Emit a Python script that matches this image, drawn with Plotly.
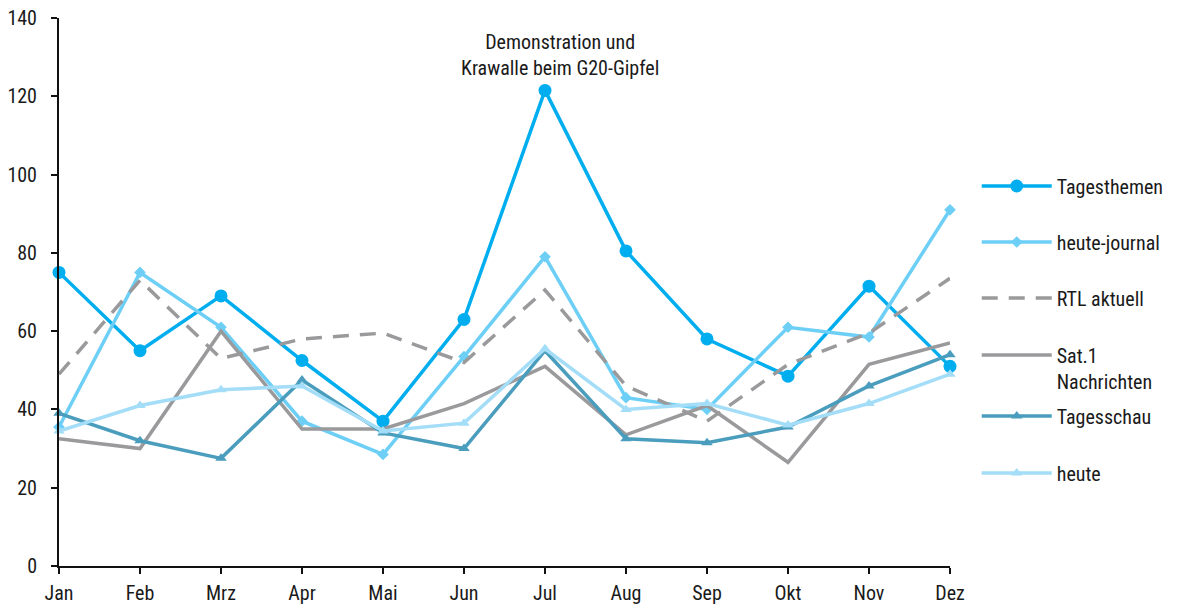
import plotly.graph_objects as go

months = ["Jan", "Feb", "Mrz", "Apr", "Mai", "Jun", "Jul", "Aug", "Sep", "Okt", "Nov", "Dez"]

tagesthemen = [75, 55, 69, 52.5, 37, 63, 121.5, 80.5, 58, 48.5, 71.5, 51]
heute_journal = [35.5, 75, 61, 37, 28.5, 53.5, 79, 43, 40, 61, 58.5, 91]
rtl_aktuell = [49, 73, 53, 58, 59.5, 52, 70.5, 46, 37, 51.5, 59.5, 73.5]
sat1_nachrichten = [32.5, 30, 60, 35, 35, 41.5, 51, 33.5, 41, 26.5, 51.5, 57]
tagesschau = [39, 32, 27.5, 47.5, 34, 30, 55, 32.5, 31.5, 35.5, 46, 54]
heute = [34.5, 41, 45, 46, 34.5, 36.5, 55.5, 40, 41.5, 36, 41.5, 49]

annotation_text = "Demonstration und<br>Krawalle beim G20-Gipfel"

FONT = "Liberation Sans Narrow, Roboto Condensed, Arial Narrow, Liberation Sans, sans-serif"
TXT = "#1a1a1a"

x = list(range(len(months)))

series = [
    ("Tagesthemen", tagesthemen, "#00AEEF", "solid", "circle", 13, "legend"),
    ("heute-journal", heute_journal, "#6DCFF6", "solid", "diamond", 9, "legend2"),
    ("RTL aktuell", rtl_aktuell, "#9A9A9C", "16px,11px", None, 0, "legend3"),
    ("Sat.1<br>Nachrichten", sat1_nachrichten, "#9A9A9C", "solid", None, 0, "legend4"),
    ("Tagesschau", tagesschau, "#4A9DBD", "solid", "triangle-up", 10, "legend5"),
    ("heute", heute, "#A3DDF7", "solid", "triangle-up", 10, "legend6"),
]

fig = go.Figure()
for name, vals, color, dash, sym, size, leg in series:
    mode = "lines+markers" if sym else "lines"
    tr = dict(
        x=x, y=vals, name=name, mode=mode,
        line=dict(color=color, width=3.5, dash=dash),
        cliponaxis=False, legend=leg, hoverinfo="skip",
    )
    if sym:
        tr["marker"] = dict(symbol=sym, size=size, color=color)
    fig.add_trace(go.Scatter(**tr))

# page body adds an 8px offset; compensate in margins
OFF = 8
H_TOP, H_BOT = 18, 566
def py(pix):
    return (H_BOT - pix) / (H_BOT - H_TOP)

legend_y = {"legend": 186, "legend2": 242, "legend3": 298, "legend4": 368, "legend5": 416, "legend6": 473}
leg_common = dict(x=1.03, xanchor="left", yanchor="middle", bgcolor="rgba(0,0,0,0)",
                  font=dict(family=FONT, size=20, color=TXT), itemwidth=70, valign="top")
layout_legends = {k: dict(leg_common, y=py(v)) for k, v in legend_y.items()}

fig.update_layout(
    width=1179, height=605,
    margin=dict(l=59 - OFF, r=229 + OFF, t=18 - OFF, b=39 + OFF, autoexpand=False),
    paper_bgcolor="white", plot_bgcolor="white",
    font=dict(family=FONT, size=20, color=TXT),
    showlegend=True,
    xaxis=dict(range=[0, 11], tickvals=x, ticktext=months, showline=True, linecolor="#111",
               linewidth=2, ticks="outside", ticklen=6, tickwidth=1.5, tickcolor="#111",
               showgrid=False, zeroline=False, fixedrange=True, automargin=False,
               ticklabelstandoff=2, ticklabeloverflow="allow"),
    yaxis=dict(range=[0, 140], dtick=20, showline=True, linecolor="#111", linewidth=2,
               ticks="outside", ticklen=6, tickwidth=1.5, tickcolor="#111",
               showgrid=False, zeroline=False, fixedrange=True, automargin=False,
               ticklabelstandoff=10, ticklabeloverflow="allow"),
    annotations=[dict(x=6.18, y=py(55), xref="x", yref="paper", text=annotation_text,
                      showarrow=False, font=dict(family=FONT, size=20, color=TXT),
                      xanchor="center", yanchor="middle", align="center")],
    **layout_legends,
)

fig.write_html("out.html")
